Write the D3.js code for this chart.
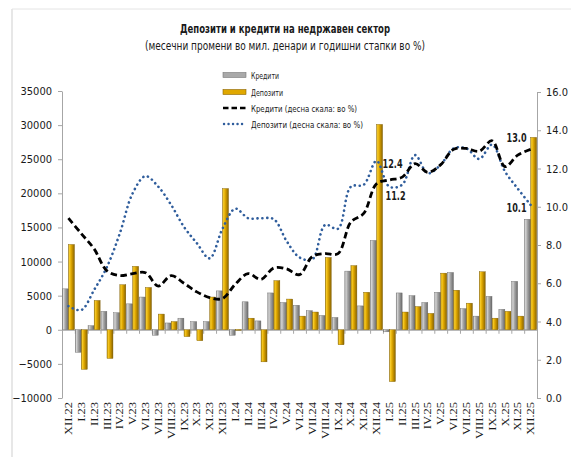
<!DOCTYPE html>
<html>
<head>
<meta charset="utf-8">
<script src="https://cdn.jsdelivr.net/npm/d3@7"></script>
<style>
	body { margin: 0; background: #fff; }
	text { font-family: "DejaVu Sans Condensed", "DejaVu Sans", sans-serif; fill: #1a1a1a; }
	.xlab text { font-family: "Liberation Serif", serif; }
</style>
</head>
<body>
<div id="main"></div>
<script>
var categories = ["XII.22","I.23","II.23","III.23","IV.23","V.23","VI.23","VII.23","VIII.23","IX.23","X.23","XI.23",
	"XII.23","I.24","II.24","III.24","IV.24","V.24","VI.24","VII.24","VIII.24","IX.24","X.24","XI.24",
	"XII.24","I.25","II.25","III.25","IV.25","V.25","VI.25","VII.25","VIII.25","IX.25","X.25","XI.25","XII.25"];

// monthly change, mil. denars
var credits = [6000,-3300,600,2700,2500,3800,4800,-800,1000,1700,1200,1200,
	5700,-800,4100,1300,5400,4000,3600,2800,2100,1800,8600,3500,
	13100,-300,5400,5000,4000,5500,8400,3100,2000,4900,3000,7100,16200];
var deposits = [12500,-5800,4300,-4200,6600,9300,6200,2300,1200,-1000,-1600,4800,
	20700,50,1700,-4700,7200,4500,2000,2600,10600,-2200,9400,5500,
	30100,-7600,2600,3400,2400,8300,5800,3900,8500,1700,2700,2000,28200];

// annual growth, % (right scale)
var creditRate = [9.4,8.6,7.8,6.65,6.4,6.5,6.55,5.85,6.4,6.0,5.55,5.25,
	5.2,5.95,6.5,6.2,6.8,6.75,6.45,7.4,7.55,7.55,9.2,9.65,
	11.2,11.4,11.55,12.25,11.8,12.2,13.0,13.05,12.9,13.45,12.1,12.7,13.0];
var depositRate = [4.8,4.6,5.65,6.85,8.6,10.7,11.6,11.05,10.1,8.95,8.1,7.3,
	8.85,9.9,9.4,9.4,9.35,8.2,7.35,7.25,9.05,8.85,11.05,11.15,
	12.4,11.05,11.15,12.7,11.75,12.2,13.05,13.05,12.5,13.25,11.85,10.95,10.1];

var leftTicks = [-10000,-5000,0,5000,10000,15000,20000,25000,30000,35000];
var rightTicks = [0,2,4,6,8,10,12,14,16];

var legendNames = ["Кредити","Депозити","Кредити (десна скала: во %)","Депозити  (десна скала: во %)"];

var WIDTH = 571, HEIGHT = 457;
var plotL = 62, plotR = 537, plotT = 91, plotB = 398;

var svg = d3.select("#main").append("svg")
	.attr("width", WIDTH)
	.attr("height", HEIGHT);

var defs = svg.append("defs");
function grad(id, stops) {
	var g = defs.append("linearGradient").attr("id", id)
		.attr("x1", "0%").attr("x2", "100%").attr("y1", "0%").attr("y2", "0%");
	stops.forEach(function(s) {
		g.append("stop").attr("offset", s[0]).attr("stop-color", s[1]);
	});
}
grad("gGray", [["0%","#8a8a8a"],["18%","#d8d8d8"],["45%","#a9a9a9"],["100%","#6a6a6a"]]);
grad("gGold", [["0%","#b88a00"],["18%","#f7cc2a"],["45%","#e0a800"],["100%","#8a6400"]]);

// frame
svg.append("line").attr("x1", 12).attr("x2", 12).attr("y1", 9).attr("y2", HEIGHT).attr("stroke", "#cfcfcf");
svg.append("line").attr("x1", 12).attr("x2", WIDTH).attr("y1", 9).attr("y2", 9).attr("stroke", "#e4e4e4");

// titles
svg.append("text").attr("x", 285).attr("y", 33).attr("text-anchor", "middle")
	.style("font-weight", "bold").style("font-size", "12.5px")
	.attr("textLength", 210).attr("lengthAdjust", "spacingAndGlyphs")
	.text("Депозити и кредити на недржавен сектор");
svg.append("text").attr("x", 285).attr("y", 50).attr("text-anchor", "middle")
	.style("font-size", "12px")
	.attr("textLength", 280).attr("lengthAdjust", "spacingAndGlyphs")
	.text("(месечни промени во мил. денари и годишни стапки во %)");

var x = d3.scaleBand().domain(categories).range([plotL, plotR]).paddingInner(0.06).paddingOuter(0.03);
var xs = d3.scaleBand().domain(["k","d"]).range([0, x.bandwidth()]).paddingInner(0.02);
var yL = d3.scaleLinear().domain([-10000, 35000]).range([plotB, plotT]);
var yR = d3.scaleLinear().domain([0, 16]).range([plotB, 92]);
var idx = d3.scaleLinear().domain([0, categories.length]).range([plotL, plotR]);

function styleAxis(g) {
	g.select(".domain").attr("stroke", "#a6a6a6");
	g.selectAll(".tick line").attr("stroke", "#a6a6a6");
	g.selectAll(".tick text").style("font-size", "11px").attr("fill", "#1a1a1a");
}

svg.append("g").attr("transform", "translate(" + plotL + ",0)")
	.call(d3.axisLeft(yL).tickValues(leftTicks).tickFormat(d3.format("d")).tickSize(4).tickSizeOuter(0).tickPadding(6))
	.call(styleAxis);
svg.append("g").attr("transform", "translate(" + plotR + ",0)")
	.call(d3.axisRight(yR).tickValues(rightTicks).tickFormat(d3.format(".1f")).tickSize(4).tickSizeOuter(0).tickPadding(5))
	.call(styleAxis);

// zero line with category ticks
svg.append("g").attr("transform", "translate(0," + yL(0) + ")")
	.call(d3.axisBottom(idx).tickValues(d3.range(0, categories.length + 1)).tickFormat("").tickSize(4).tickSizeOuter(0))
	.call(styleAxis);

// category labels
var xl = svg.append("g").attr("class", "xlab").attr("transform", "translate(0," + plotB + ")")
	.call(d3.axisBottom(x).tickSize(0).tickPadding(0));
xl.select(".domain").remove();
xl.selectAll(".tick text")
	.attr("y", 0).attr("dy", 0)
	.attr("text-anchor", "end")
	.attr("transform", "rotate(-90) scale(1,0.8) translate(-4,4.5)")
	.style("font-size", "12.5px").attr("fill", "#1a1a1a");

// bars
var groups = svg.append("g").selectAll("g").data(categories).join("g")
	.attr("transform", function(d) { return "translate(" + x(d) + ",0)"; });
groups.append("rect")
	.attr("x", xs("k")).attr("width", xs.bandwidth())
	.attr("y", function(d, i) { return yL(Math.max(0, credits[i])); })
	.attr("height", function(d, i) { return Math.abs(yL(credits[i]) - yL(0)); })
	.attr("fill", "url(#gGray)").attr("stroke", "#6a6a6a").attr("stroke-width", 0.4);
groups.append("rect")
	.attr("x", xs("d")).attr("width", xs.bandwidth())
	.attr("y", function(d, i) { return yL(Math.max(0, deposits[i])); })
	.attr("height", function(d, i) { return Math.max(0.8, Math.abs(yL(deposits[i]) - yL(0))); })
	.attr("fill", "url(#gGold)").attr("stroke", "#7a5a00").attr("stroke-width", 0.4);

// lines
var cx = function(i) { return x(categories[i]) + x.bandwidth() / 2; };
var line = d3.line().x(function(d, i) { return cx(i); }).y(function(d) { return yR(d); })
	.curve(d3.curveCatmullRom.alpha(0.5));

svg.append("path").datum(depositRate).attr("d", line)
	.attr("fill", "none").attr("stroke", "#2f5d9c").attr("stroke-width", 2.6)
	.attr("stroke-linecap", "round").attr("stroke-dasharray", "0.1,4.8");
svg.append("path").datum(creditRate).attr("d", line)
	.attr("fill", "none").attr("stroke", "#000").attr("stroke-width", 2.8)
	.attr("stroke-dasharray", "6.5,3.5");

// data labels
function label(i, v, dx, dy, anchor) {
	svg.append("text").attr("x", cx(i) + dx).attr("y", yR(v) + dy)
		.attr("text-anchor", anchor).style("font-weight", "bold").style("font-size", "11.5px")
		.attr("textLength", 20).attr("lengthAdjust", "spacingAndGlyphs")
		.text(v.toFixed(1));
}
label(24, depositRate[24], 6, 7, "start");
label(24, creditRate[24], 9, 16, "start");
label(36, creditRate[36], -4, -7, "end");
label(36, depositRate[36], -4, 7, "end");

// legend
var leg = svg.append("g").attr("transform", "translate(223,0)");
var rowsY = [75, 92, 108, 124];
var textLen = [28, 32, 106, 112];
legendNames.forEach(function(name, i) {
	var y = rowsY[i];
	if (i < 2) {
		leg.append("rect").attr("x", 0).attr("y", y - 2.5).attr("width", 23).attr("height", 5)
			.attr("fill", i === 0 ? "#a9a9a9" : "#e0a800").attr("stroke", i === 0 ? "#777" : "#8a6400").attr("stroke-width", 0.6);
	} else if (i === 2) {
		leg.append("line").attr("x1", 0).attr("x2", 23).attr("y1", y).attr("y2", y)
			.attr("stroke", "#000").attr("stroke-width", 2.6).attr("stroke-dasharray", "5.5,3");
	} else {
		leg.append("line").attr("x1", 1).attr("x2", 23).attr("y1", y).attr("y2", y)
			.attr("stroke", "#2f5d9c").attr("stroke-width", 2.4).attr("stroke-linecap", "round").attr("stroke-dasharray", "0.1,4.4");
	}
	leg.append("text").attr("x", 28).attr("y", y + 3.5).style("font-size", "9px")
		.attr("textLength", textLen[i]).attr("lengthAdjust", "spacingAndGlyphs")
		.text(name);
});
</script>
</body>
</html>
